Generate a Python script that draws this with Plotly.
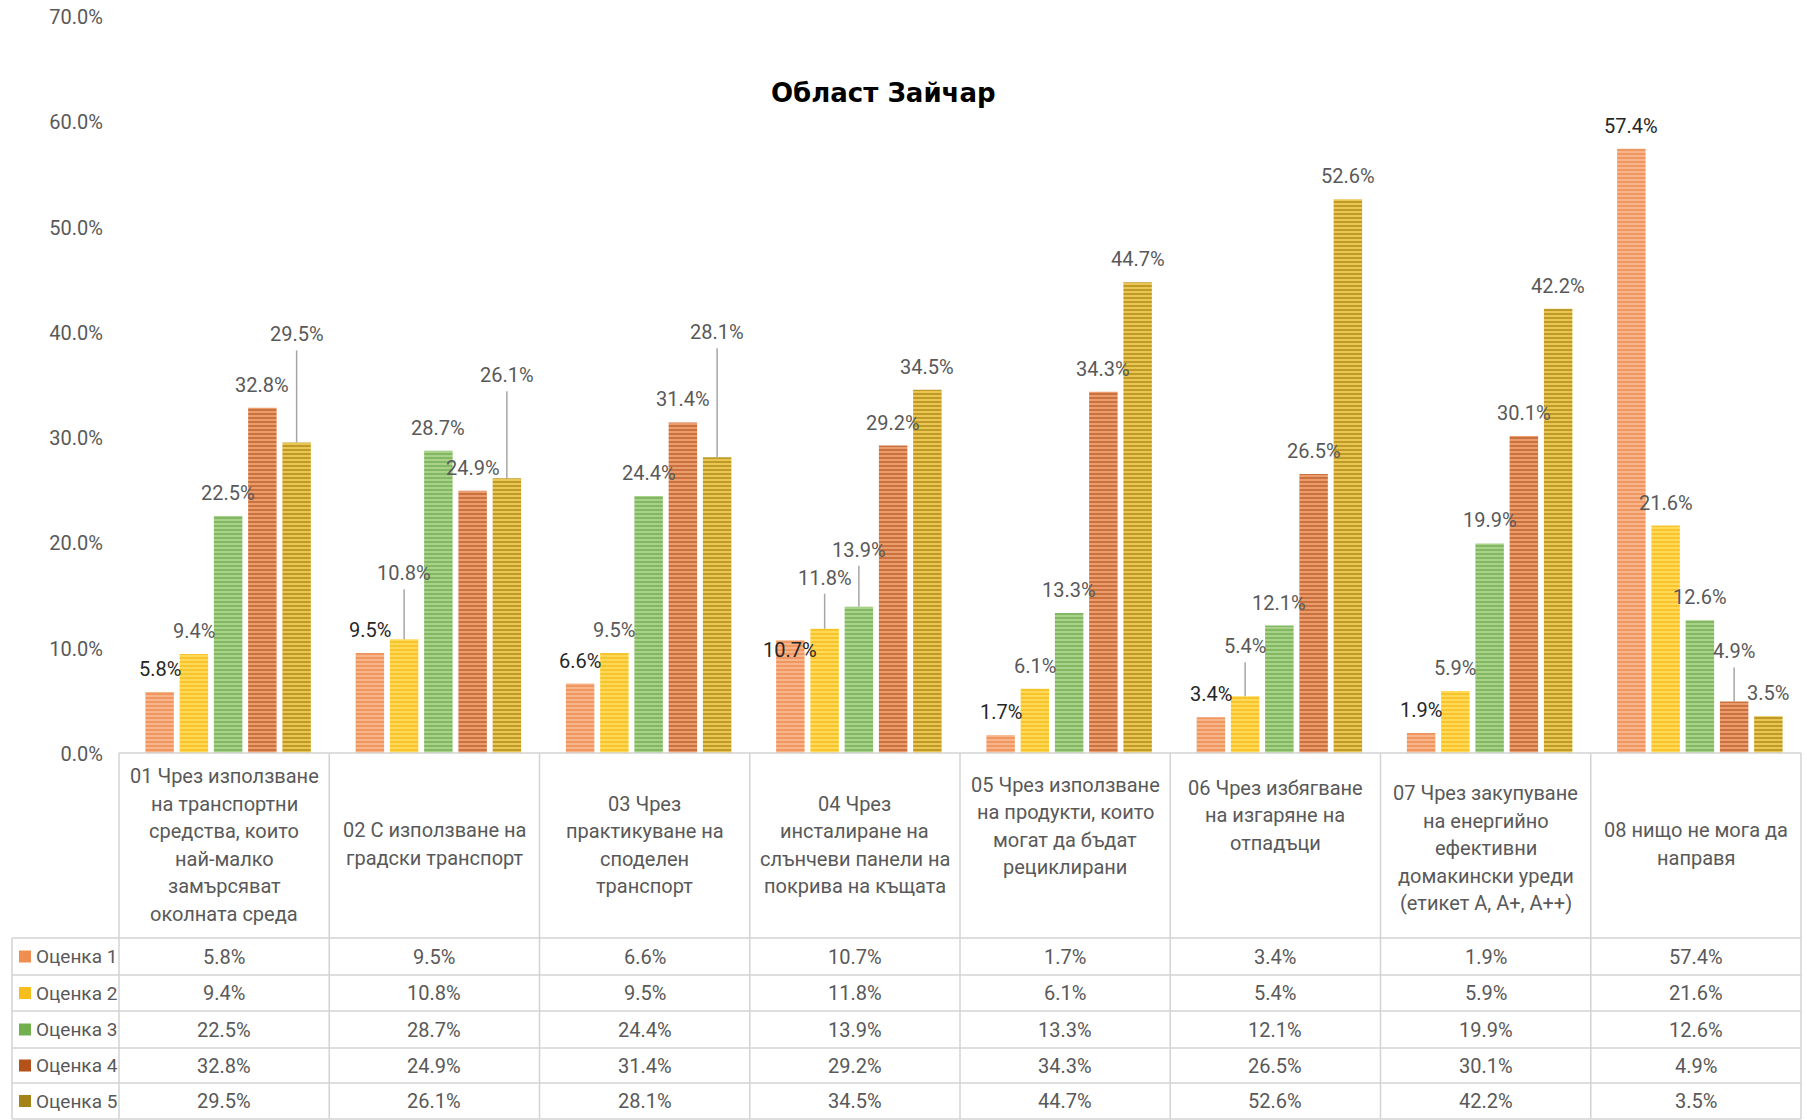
import plotly.graph_objects as go

# ---------------- data ----------------
categories = [
    "01 Чрез използване<br>на транспортни<br>средства, които<br>най-малко<br>замърсяват<br>околната среда",
    "02 С използване на<br>градски транспорт",
    "03 Чрез<br>практикуване на<br>споделен<br>транспорт",
    "04 Чрез<br>инсталиране на<br>слънчеви панели на<br>покрива на къщата",
    "05 Чрез използване<br>на продукти, които<br>могат да бъдат<br>рециклирани",
    "06 Чрез избягване<br>на изгаряне на<br>отпадъци",
    "07 Чрез закупуване<br>на енергийно<br>ефективни<br>домакински уреди<br>(етикет А, А+, А++)",
    "08 нищо не мога да<br>направя",
]
series_names = ["Оценка 1", "Оценка 2", "Оценка 3", "Оценка 4", "Оценка 5"]
ocenka1 = [5.8, 9.5, 6.6, 10.7, 1.7, 3.4, 1.9, 57.4]
ocenka2 = [9.4, 10.8, 9.5, 11.8, 6.1, 5.4, 5.9, 21.6]
ocenka3 = [22.5, 28.7, 24.4, 13.9, 13.3, 12.1, 19.9, 12.6]
ocenka4 = [32.8, 24.9, 31.4, 29.2, 34.3, 26.5, 30.1, 4.9]
ocenka5 = [29.5, 26.1, 28.1, 34.5, 44.7, 52.6, 42.2, 3.5]
y_ticks = [0, 10, 20, 30, 40, 50, 60, 70]
chart_title = "Област Зайчар"

series_values = [ocenka1, ocenka2, ocenka3, ocenka4, ocenka5]

# ---------------- styles ----------------
fg_colors = ["#EA7A36", "#F0B000", "#5C9D37", "#A8470F", "#927200"]
bg_colors = ["#F7B58C", "#FFD957", "#A8D28A", "#EC9C6C", "#EAC552"]
key_colors = ["#F08D50", "#F6BE1C", "#72AF4E", "#B4521A", "#A4841A"]
label_colors = ["#262626", "#595959", "#595959", "#595959", "#595959"]
FONT = "Roboto, 'Noto Sans', sans-serif"
GRAY = "#595959"
LINE = "#D3D3D3"

W, H = 1807, 1120
L, R, T, B = 119, 6, 16, 367
PW, PH = W - L - R, H - T - B
N = len(categories)
COLW = PW / N
BARGAP = 0.1855
SLOT = (1 - BARGAP) / 5
XSHIFT = 4 / COLW


def px(x):
    return (x - L) / PW


def py(y):
    return (H - B - y) / PH


fig = go.Figure()
xs = list(range(N))
for j, (name, vals) in enumerate(zip(series_names, series_values)):
    fig.add_trace(go.Bar(
        x=xs, y=vals, name=name,
        marker=dict(
            color=bg_colors[j],
            line=dict(width=0),
            pattern=dict(shape="-", fgcolor=fg_colors[j], bgcolor=bg_colors[j],
                         size=4, solidity=0.5, fillmode="overlay"),
        ),
        showlegend=False, hoverinfo="skip",
    ))

# label offsets (pixels above bar top) for manually moved labels
DEFAULT_OFF = 23
moved = {(0, 4): 108, (1, 1): 66, (1, 4): 103, (2, 4): 125, (3, 0): -10,
         (3, 1): 51, (3, 2): 57, (5, 1): 50, (7, 3): 50}

annotations = []
shapes = []
for j, vals in enumerate(series_values):
    for i, v in enumerate(vals):
        xc = i + (j - 2) * SLOT
        off = moved.get((i, j), DEFAULT_OFF)
        annotations.append(dict(
            x=xc, y=v, xref="x", yref="y", yshift=off, showarrow=False,
            text=f"{v:.1f}%", yanchor="middle", xanchor="center",
            font=dict(family=FONT, size=20, color=label_colors[j]),
        ))
        if off > 40:
            shapes.append(dict(
                type="line", xref="x", yref="y", ysizemode="pixel", yanchor=v,
                x0=xc, x1=xc, y0=0, y1=off - 16,
                line=dict(color="#A6A6A6", width=1.5),
            ))

# ---------------- data table ----------------
header_top, header_bottom = 753, 938
row_bounds = [938, 975, 1011, 1048, 1083, 1119]
legend_left = 12
header_centers = [845, 844, 845, 845, 826, 815, 848, 844]
LINE_H = 27.5

shapes.append(dict(type="line", xref="paper", yref="paper",
                   x0=px(L), x1=px(L + PW), y0=py(header_top), y1=py(header_top),
                   line=dict(color=LINE, width=1.5)))
for yb in row_bounds:
    shapes.append(dict(type="line", xref="paper", yref="paper",
                       x0=px(legend_left), x1=px(L + PW), y0=py(yb), y1=py(yb),
                       line=dict(color=LINE, width=1.5)))
for k in range(N + 1):
    xx = L + COLW * k
    shapes.append(dict(type="line", xref="paper", yref="paper",
                       x0=px(xx), x1=px(xx), y0=py(header_top), y1=py(row_bounds[-1]),
                       line=dict(color=LINE, width=1.5)))
shapes.append(dict(type="line", xref="paper", yref="paper",
                   x0=px(legend_left), x1=px(legend_left), y0=py(row_bounds[0]), y1=py(row_bounds[-1]),
                   line=dict(color=LINE, width=1.5)))

for i, cat in enumerate(categories):
    lines = cat.split("<br>")
    n = len(lines)
    xc = L + COLW * (i + 0.5)
    for k, ln in enumerate(lines):
        yc = header_centers[i] + (k - (n - 1) / 2) * LINE_H
        annotations.append(dict(
            x=px(xc), y=py(yc), xref="paper", yref="paper", showarrow=False,
            text=ln, xanchor="center", yanchor="middle",
            font=dict(family=FONT, size=20, color=GRAY),
        ))

for j, (name, vals) in enumerate(zip(series_names, series_values)):
    yc = (row_bounds[j] + row_bounds[j + 1]) / 2
    shapes.append(dict(type="rect", xref="paper", yref="paper",
                       x0=px(19), x1=px(31), y0=py(yc - 6), y1=py(yc + 6),
                       fillcolor=key_colors[j], line=dict(width=0)))
    annotations.append(dict(
        x=px(34), y=py(yc), xref="paper", yref="paper", showarrow=False,
        text=name, xanchor="left", yanchor="middle",
        font=dict(family=FONT, size=19, color=GRAY),
    ))
    for i, v in enumerate(vals):
        xc = L + COLW * (i + 0.5)
        annotations.append(dict(
            x=px(xc), y=py(yc), xref="paper", yref="paper", showarrow=False,
            text=f"{v:.1f}%", xanchor="center", yanchor="middle",
            font=dict(family=FONT, size=20, color=GRAY),
        ))

annotations.append(dict(
    x=px(883.5), y=py(93), xref="paper", yref="paper", showarrow=False,
    text=f"<b>{chart_title}</b>", xanchor="center", yanchor="middle",
    font=dict(family="'DejaVu Sans', Verdana, sans-serif", size=26, color="#000000"),
))

fig.update_layout(
    width=W, height=H,
    margin=dict(l=L, r=R, t=T, b=B, pad=0),
    paper_bgcolor="white", plot_bgcolor="white",
    barmode="group", bargap=BARGAP, bargroupgap=0.168,
    xaxis=dict(range=[-0.5 - XSHIFT, N - 0.5 - XSHIFT], showticklabels=False,
               showgrid=False, zeroline=False, showline=False, ticks=""),
    yaxis=dict(range=[0, 70], tickvals=y_ticks,
               ticktext=[f"{t:.1f}%" for t in y_ticks],
               showgrid=False, zeroline=False, showline=False, ticks="",
               tickfont=dict(family=FONT, size=20, color=GRAY),
               ticklabelstandoff=15, ticklabelshift=1),
    annotations=annotations,
    shapes=shapes,
)

fig.write_html("out.html", config={"displayModeBar": False},
               post_script="document.body.style.margin='0';")
